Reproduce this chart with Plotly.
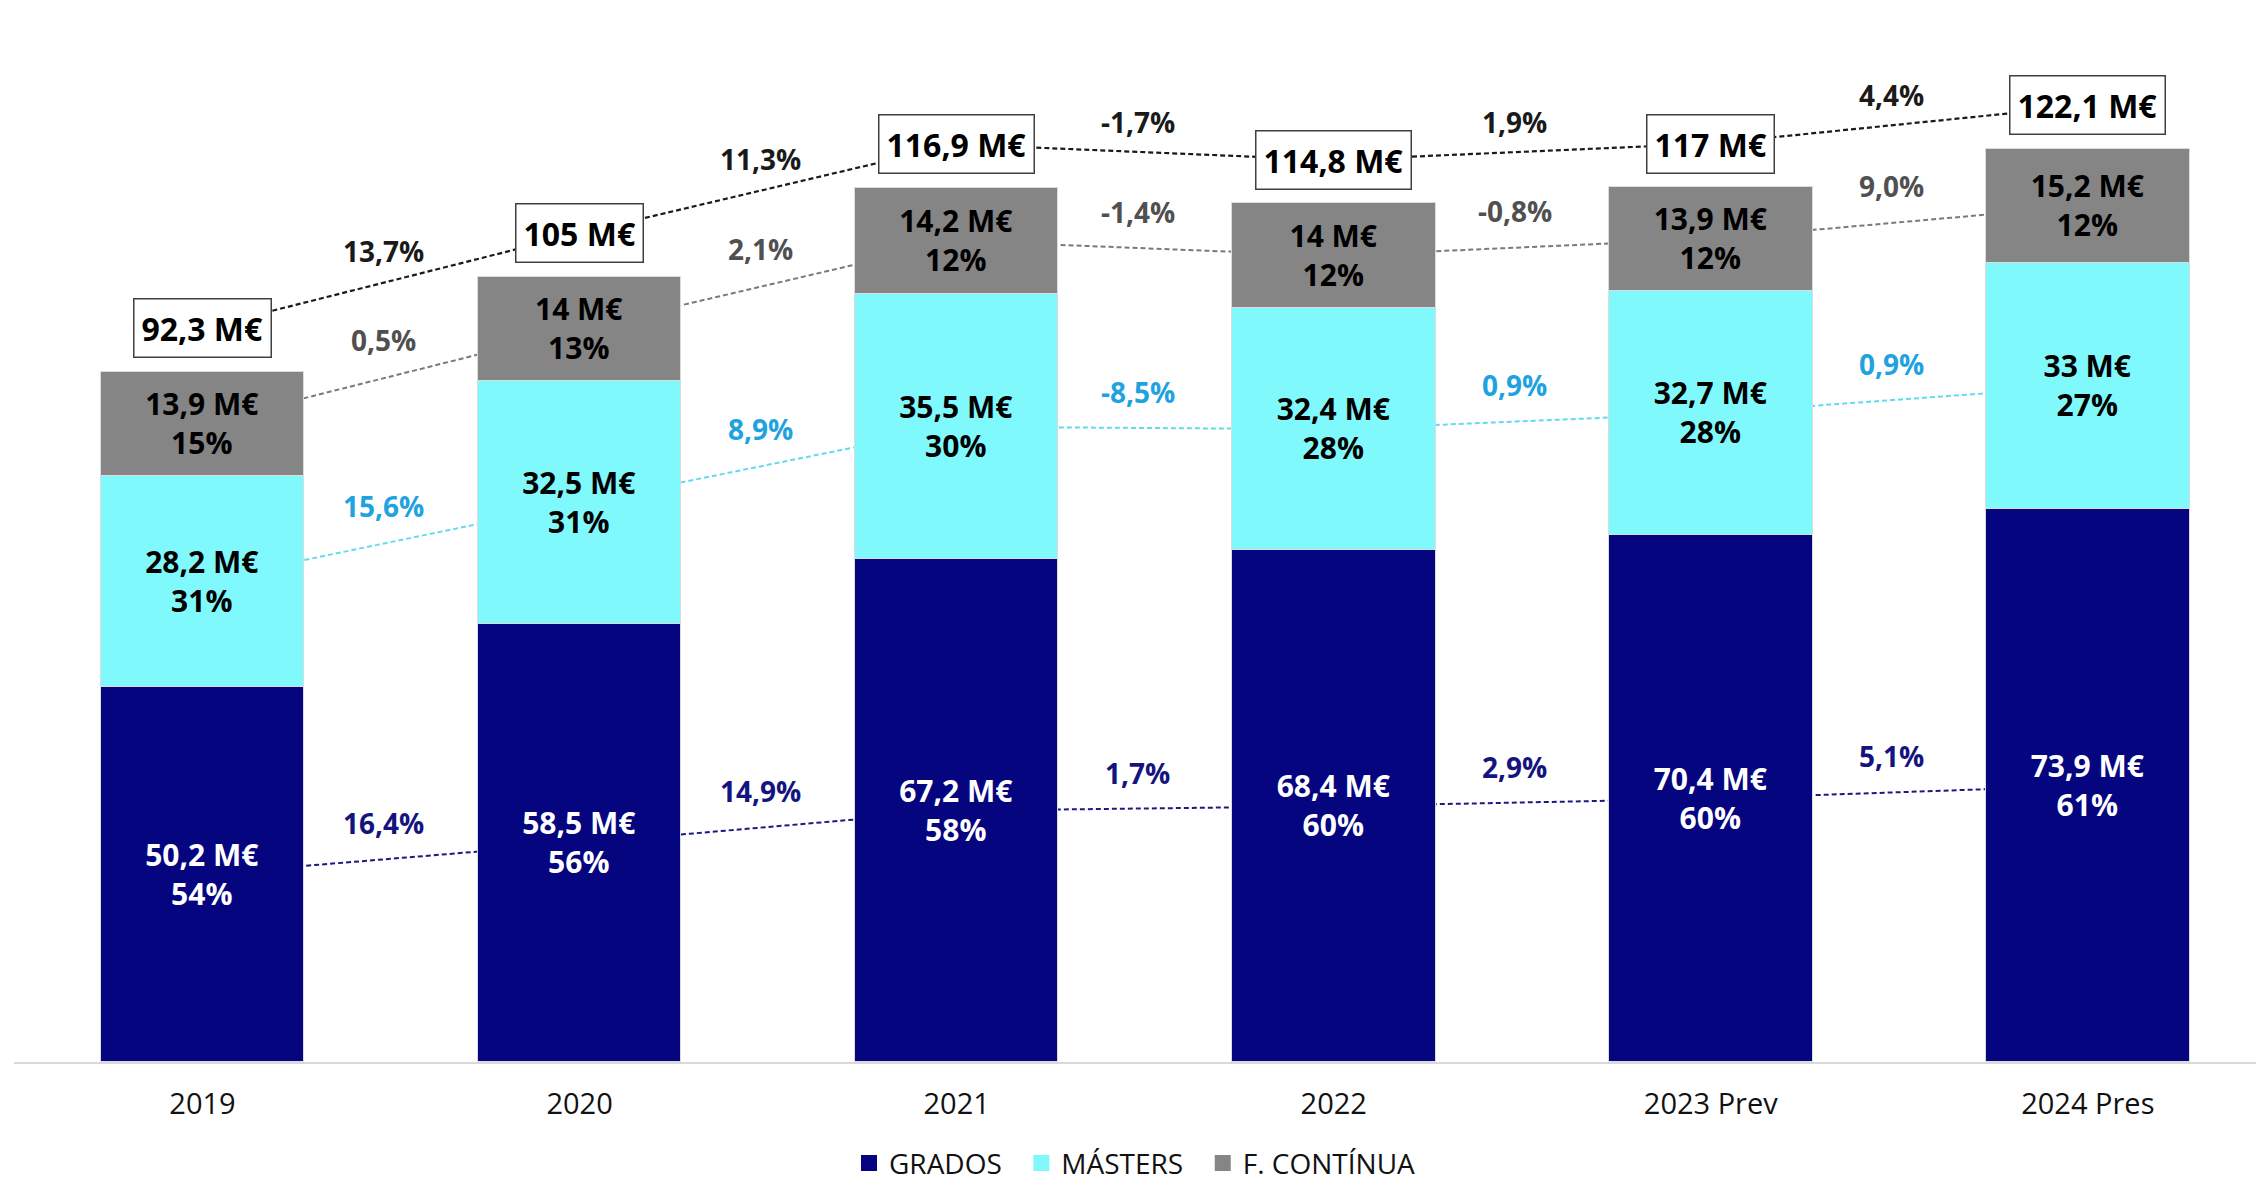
import plotly.graph_objects as go

# ---------------- data ----------------
years = ["2019", "2020", "2021", "2022", "2023 Prev", "2024 Pres"]
grados = [50.2, 58.5, 67.2, 68.4, 70.4, 73.9]
masters = [28.2, 32.5, 35.5, 32.4, 32.7, 33.0]
fcont = [13.9, 14.0, 14.2, 14.0, 13.9, 15.2]
totals = [92.3, 105.0, 116.9, 114.8, 117.0, 122.1]
grados_share = [54, 56, 58, 60, 60, 61]
masters_share = [31, 31, 30, 28, 28, 27]
fcont_share = [15, 13, 12, 12, 12, 12]
growth_total = [13.7, 11.3, -1.7, 1.9, 4.4]
growth_fcont = [0.5, 2.1, -1.4, -0.8, 9.0]
growth_masters = [15.6, 8.9, -8.5, 0.9, 0.9]
growth_grados = [16.4, 14.9, 1.7, 2.9, 5.1]
series_names = ["GRADOS", "MÁSTERS", "F. CONTÍNUA"]

# ---------------- styles ----------------
FONT = "Open Sans"
NAVY = "#05057F"
CYAN = "#80F9FC"
GRAY = "#858585"
LINE_TOTAL = "#1a1a1a"
LINE_FC = "#7a7a7a"
LINE_M = "#62DCEC"
LINE_G = "#1a1a80"
PCT_TOTAL = "#1a1a1a"
PCT_FC = "#505050"
PCT_M = "#1FA2E0"
PCT_G = "#14147F"
BAR_W = 0.54
BOX_OFF = 5.8
PCT_OFF = 4.8
PCT_OFF_T = 4.0
YMAX = 142


def fmt_m(v):
    s = f"{v:.1f}".replace(".", ",")
    if s.endswith(",0"):
        s = s[:-2]
    return s + " M€"


def fmt_p(v):
    return f"{v:.1f}%".replace(".", ",")


xs = list(range(len(years)))
mid_g = [g / 2 for g in grados]
mid_m = [g + m / 2 for g, m in zip(grados, masters)]
mid_f = [g + m + f / 2 for g, m, f in zip(grados, masters, fcont)]
box_y = [t + BOX_OFF for t in totals]

fig = go.Figure()

# connecting dashed lines (base subplot, drawn beneath the bars)
for ys, col, w in [(mid_g, LINE_G, 2), (mid_m, LINE_M, 2), (mid_f, LINE_FC, 2), (box_y, LINE_TOTAL, 2.2)]:
    fig.add_trace(go.Scatter(x=xs, y=ys, mode="lines", showlegend=False, hoverinfo="skip",
                             line=dict(color=col, width=w, dash="5px,3px"),
                             xaxis="x", yaxis="y"))

# stacked bars (overlay subplot, on top of the lines)
NB = "\u00a0"
series = [
    (grados, grados_share, NAVY, "white", series_names[0]),
    (masters, masters_share, CYAN, "black", series_names[1]),
    (fcont, fcont_share, GRAY, "black", series_names[2]),
]
for vals, shares, col, tcol, name in series:
    fig.add_trace(go.Bar(
        x=xs, y=vals, name=name, width=BAR_W, showlegend=False,
        marker=dict(color=col, line=dict(color="#dcdcdc", width=1.5)),
        text=[f"<b>{fmt_m(v)}<br>{s}%</b>" for v, s in zip(vals, shares)],
        textposition="inside", insidetextanchor="middle",
        textfont=dict(family=FONT, size=30, color=tcol),
        hoverinfo="skip", xaxis="x2", yaxis="y2",
    ))

# legend entries (larger square swatches)
for i, (vals, shares, col, tcol, name) in enumerate(series):
    fig.add_trace(go.Scatter(
        x=[None], y=[None], mode="markers", name=name + (NB * 2 if i < 2 else ""),
        marker=dict(symbol="square", size=16, color=col, line=dict(width=0)),
        xaxis="x", yaxis="y",
    ))

annotations = []
# total boxes
for x, y, t in zip(xs, box_y, totals):
    annotations.append(dict(x=x, y=y, xref="x", yref="y", text=f"<b>{fmt_m(t)}</b>",
                            showarrow=False, font=dict(family=FONT, size=32, color="black"),
                            bgcolor="white", bordercolor="#404040", borderwidth=1.5, borderpad=7))
# growth labels
for mids, growth, col, off in [(box_y, growth_total, PCT_TOTAL, PCT_OFF_T), (mid_f, growth_fcont, PCT_FC, PCT_OFF),
                               (mid_m, growth_masters, PCT_M, PCT_OFF), (mid_g, growth_grados, PCT_G, PCT_OFF)]:
    for i, gv in enumerate(growth):
        annotations.append(dict(x=i + 0.48, y=(mids[i] + mids[i + 1]) / 2 + off, xref="x", yref="y",
                                text=f"<b>{fmt_p(gv)}</b>", showarrow=False,
                                font=dict(family=FONT, size=28, color=col)))

xrange = [-0.5, 5.446]
fig.update_layout(
    width=2256, height=1183, autosize=False,
    margin=dict(l=14, r=0, t=0, b=121, autoexpand=False),
    paper_bgcolor="white", plot_bgcolor="white",
    barmode="stack", bargap=0,
    font=dict(family=FONT, color="black"),
    xaxis=dict(range=xrange, tickvals=xs, ticktext=years, showgrid=False, zeroline=False,
               showline=True, linecolor="#d9d9d9", linewidth=2, ticks="", ticklabelstandoff=15,
               tickfont=dict(family=FONT, size=29, color="#111111")),
    yaxis=dict(range=[0, YMAX], visible=False, showgrid=False, zeroline=False),
    xaxis2=dict(range=xrange, overlaying="x", visible=False, showgrid=False, zeroline=False),
    yaxis2=dict(range=[0, YMAX], overlaying="y", visible=False, showgrid=False, zeroline=False),
    legend=dict(orientation="h", x=0.5, xanchor="center", y=-0.0955, yanchor="middle",
                font=dict(family=FONT, size=28, color="#111111"), traceorder="normal",
                itemwidth=30, borderwidth=0),
    annotations=annotations,
    uniformtext=dict(minsize=30, mode="show"),
)

fig.write_html("out.html", config={"displayModeBar": False},
               post_script="document.body.style.margin='0';document.body.style.overflow='hidden';")
